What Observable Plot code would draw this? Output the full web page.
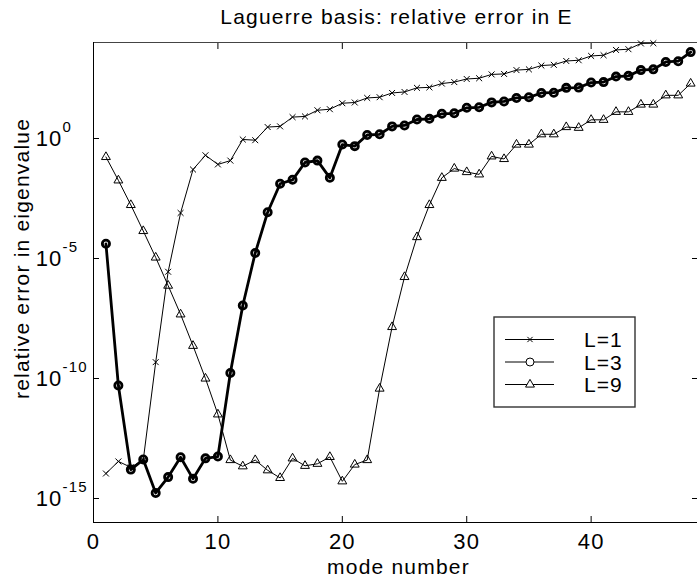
<!DOCTYPE html>
<html><head><meta charset="utf-8">
<script src="https://cdn.jsdelivr.net/npm/d3@7"></script>
<script src="https://cdn.jsdelivr.net/npm/@observablehq/plot@0.6"></script>
<style>
body{margin:0;background:#fff;overflow:hidden;}
#wrap{position:relative;width:697px;height:578px;font-family:"Liberation Sans",Arial,sans-serif;}
</style></head><body><div id="wrap"></div>
<script>
const titleText = "Laguerre basis: relative error in E";
const xLabel = "mode number";
const yLabel = "relative error in eigenvalue";
const seriesNames = ["L=1", "L=3", "L=9"];
const xTicks = [0, 10, 20, 30, 40];
const yTicks = [1e-15, 1e-10, 1e-5, 1e0];
const yTickExponents = ["-15", "-10", "-5", "0"];
const modeNumbers = [1,2,3,4,5,6,7,8,9,10,11,12,13,14,15,16,17,18,19,20,21,22,23,24,25,26,27,28,29,30,31,32,33,34,35,36,37,38,39,40,41,42,43,44,45,46,47,48];

// L=1 (modes 1..45)
const errL1 = [1.1e-14,3.5e-14,2.0e-14,4.0e-14,4.8e-10,2.8e-6,7.9e-4,5.1e-2,0.20,8.3e-2,
  0.12,0.91,0.85,3.0,3.2,7.8,8.3,15,16.6,29.5,
  31.6,49,52.5,79,87,129,135,195,224,302,
  324,468,490,708,759,1096,1175,1698,1820,2754,
  2951,4898,5248,9120,9333];
// L=3 (modes 1..48)
const errL3 = [4.1e-5,5.1e-11,1.6e-14,4.2e-14,1.7e-15,7.8e-15,5.2e-14,6.6e-15,4.7e-14,5.6e-14,
  1.7e-10,1.1e-7,1.7e-5,8.5e-4,1.3e-2,1.9e-2,0.10,0.12,2.3e-2,0.56,
  0.48,1.4,1.5,3.2,3.5,6.2,6.6,10.7,11.2,19,
  20,32,35,49,52,79,81,129,132,214,
  224,380,407,708,759,1549,1660,3981];
// L=9 (modes 1..48)
const errL9 = [0.17,1.8e-2,1.7e-3,1.4e-4,1.1e-5,7.4e-7,4.7e-8,2.3e-9,1.0e-10,3.2e-12,
  4.0e-14,2.2e-14,4.0e-14,1.5e-14,7.2e-15,4.7e-14,2.3e-14,2.8e-14,5.4e-14,5.2e-15,
  2.6e-14,4.0e-14,3.8e-11,1.4e-8,1.7e-6,7.8e-5,1.7e-3,2.3e-2,5.6e-2,4.0e-2,
  3.2e-2,0.18,0.14,0.56,0.56,1.5,1.5,3.0,2.8,6.0,
  6.0,12.9,12.9,26,26,63,63,195];

const toRows = (arr) => arr.map((v, i) => ({n: modeNumbers[i], err: v}));
const rows1 = toRows(errL1), rows3 = toRows(errL3), rows9 = toRows(errL9);

const W = 697, H = 578;
const tickLen = 6;
const plot = Plot.plot({
  width: W, height: H,
  marginLeft: 93, marginRight: 0, marginTop: 42, marginBottom: 56,
  style: {fontFamily: '"Liberation Sans", Arial, sans-serif', background: "white", color: "black", overflow: "visible"},
  x: {domain: [0, 48.55], axis: null},
  y: {type: "log", domain: [1e-16, 1e4], axis: null},
  marks: [
    // frame
    Plot.frame({anchor: "top", stroke: "#444"}),
    Plot.frame({anchor: "left", stroke: "black"}),
    Plot.frame({anchor: "bottom", stroke: "black"}),
    // inward ticks
    Plot.axisX(xTicks.slice(1), {anchor: "bottom", tickSize: tickLen, dy: -tickLen, tickFormat: () => "", label: null}),
    Plot.axisX(xTicks.slice(1), {anchor: "top", tickSize: tickLen, dy: tickLen, tickFormat: () => "", label: null}),
    Plot.axisY(yTicks, {anchor: "left", tickSize: tickLen, dx: tickLen, tickFormat: () => "", label: null}),
    Plot.axisY(yTicks, {anchor: "right", tickSize: tickLen, dx: -tickLen, tickFormat: () => "", label: null}),
    // x tick labels
    Plot.axisX(xTicks, {anchor: "bottom", tickSize: 0, tickPadding: 11, fontSize: 22, label: null}),
    // y tick labels 10^k
    Plot.text(yTicks, {y: d => d, text: () => "10", frameAnchor: "left", textAnchor: "end", dx: -31, fontSize: 22, lineAnchor: "middle"}),
    Plot.text(yTicks, {y: d => d, text: (d, i) => yTickExponents[i], frameAnchor: "left", textAnchor: "start", dx: -31, dy: -11, fontSize: 15, lineAnchor: "middle"}),
    // axis labels + title
    Plot.text([titleText], {frameAnchor: "top", textAnchor: "middle", dy: -19, dx: 1, lineAnchor: "bottom", fontSize: 21}),
    Plot.text([xLabel], {frameAnchor: "bottom", textAnchor: "middle", dy: 51, dx: 3, lineAnchor: "bottom", fontSize: 21}),
    Plot.text([yLabel], {frameAnchor: "left", textAnchor: "middle", dx: -65, dy: -24, rotate: -90, lineAnchor: "bottom", fontSize: 21}),
    // series
    Plot.line(rows1, {x: "n", y: "err", stroke: "black", strokeWidth: 1}),
    Plot.dot(rows1, {x: "n", y: "err", symbol: "times", r: 2.8, stroke: "black", strokeWidth: 1}),
    Plot.line(rows9, {x: "n", y: "err", stroke: "black", strokeWidth: 1}),
    Plot.dot(rows9, {x: "n", y: "err", symbol: "triangle", r: 3.3, stroke: "black", strokeWidth: 1, fill: "none"}),
    Plot.line(rows3, {x: "n", y: "err", stroke: "black", strokeWidth: 2.8}),
    Plot.dot(rows3, {x: "n", y: "err", symbol: "circle", r: 3.6, stroke: "black", strokeWidth: 2.8, fill: "none"})
  ]
});
d3.select(plot).selectAll("text").style("letter-spacing", "1.2px");
const wrap = document.getElementById("wrap");
wrap.appendChild(plot);

// legend
const leg = d3.select(wrap).append("svg")
  .attr("width", 143).attr("height", 92)
  .style("position", "absolute").style("left", "493px").style("top", "316px");
leg.append("rect").attr("x", 1).attr("y", 1).attr("width", 141).attr("height", 90)
  .attr("fill", "white").attr("stroke", "#333").attr("stroke-width", 1.4);
const legSymbols = [
  {sym: d3.symbolTimes, r: 2.5},
  {sym: d3.symbolCircle, r: 4},
  {sym: d3.symbolTriangle, r: 3.3}
];
const rowY = [23.5, 46, 68.5];
seriesNames.forEach((name, i) => {
  const g = leg.append("g").attr("transform", `translate(0,${rowY[i]})`);
  g.append("line").attr("x1", 12).attr("x2", 61).attr("stroke", "black").attr("stroke-width", 1);
  g.append("path").attr("transform", "translate(37,0)")
    .attr("d", d3.symbol(legSymbols[i].sym, Math.PI * legSymbols[i].r ** 2)())
    .attr("fill", "white").attr("stroke", "black").attr("stroke-width", 1);
  g.append("text").attr("x", 91).attr("dy", "0.36em").attr("font-size", 21)
    .attr("letter-spacing", "1px")
    .attr("font-family", '"Liberation Sans", Arial, sans-serif').text(name);
});
</script></body></html>
